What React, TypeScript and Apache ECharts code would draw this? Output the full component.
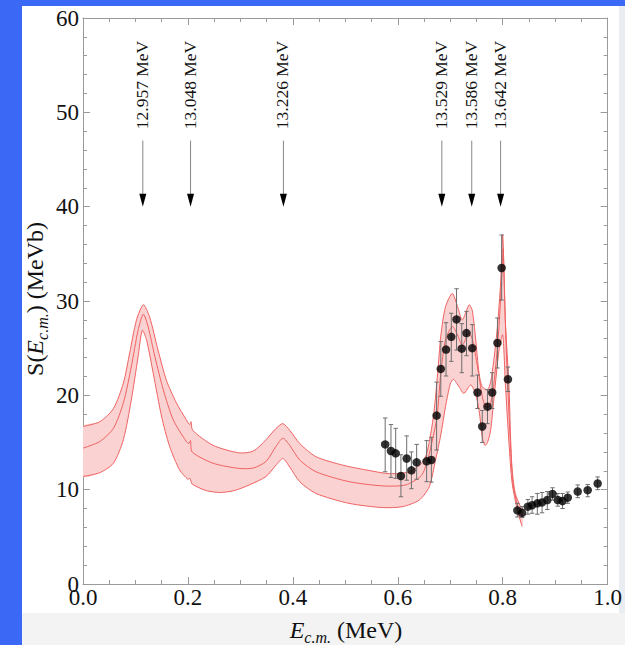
import React, { useEffect, useRef } from "react";
import * as echarts from "echarts";

// ---- R-matrix band: upper, central and lower curves [E_cm (MeV), S (MeV b)]
const upperCurve: number[][] = [
  [0, 16.7], [0.032, 17.2], [0.058, 18.6], [0.077, 21.3], [0.089, 24.5], [0.102, 28.0],
  [0.115, 29.6], [0.127, 28.3], [0.143, 24.8], [0.159, 21.6], [0.178, 19.2], [0.197, 17.4],
  [0.203, 16.9], [0.206, 17.2], [0.209, 16.3], [0.248, 14.7], [0.298, 13.9], [0.325, 14.1],
  [0.349, 15.3], [0.368, 16.5], [0.381, 17.0], [0.394, 16.3], [0.413, 14.9], [0.444, 13.5],
  [0.495, 12.6], [0.539, 12.1], [0.584, 11.7], [0.622, 11.9], [0.647, 12.9], [0.656, 14.0],
  [0.663, 16.0], [0.669, 18.2], [0.676, 22.3], [0.682, 26.3], [0.691, 29.4], [0.704, 30.8],
  [0.714, 29.4], [0.723, 28.0], [0.736, 29.6], [0.742, 29.0], [0.748, 26.2], [0.755, 22.3],
  [0.761, 20.9], [0.771, 20.6], [0.777, 21.4], [0.783, 23.7], [0.790, 27.3], [0.796, 31.9],
  [0.800, 37.0], [0.805, 28.0], [0.812, 20.9], [0.815, 15.6], [0.818, 12.1], [0.824, 9.6],
  [0.834, 8.2], [0.840, 7.85],
];
const middleCurve: number[][] = [
  [0, 14.4], [0.032, 15.1], [0.058, 16.5], [0.077, 19.2], [0.092, 23.0], [0.105, 26.9],
  [0.115, 28.6], [0.124, 27.3], [0.137, 24.1], [0.153, 20.6], [0.172, 17.4], [0.197, 15.1],
  [0.202, 14.9], [0.205, 15.2], [0.208, 14.0], [0.248, 12.8], [0.298, 12.25], [0.325, 12.3],
  [0.349, 13.0], [0.368, 14.6], [0.381, 15.45], [0.394, 14.7], [0.413, 13.15], [0.444, 11.9],
  [0.507, 10.85], [0.571, 10.4], [0.615, 10.5], [0.645, 11.5], [0.657, 13.15], [0.667, 15.5],
  [0.675, 17.8], [0.682, 22.3], [0.691, 25.9], [0.704, 27.3], [0.714, 26.4], [0.723, 25.3],
  [0.735, 26.6], [0.742, 26.0], [0.752, 23.0], [0.761, 19.9], [0.767, 18.8], [0.774, 18.8],
  [0.780, 19.9], [0.786, 22.7], [0.793, 27.3], [0.799, 33.5], [0.801, 35.5], [0.806, 26.0],
  [0.812, 18.0], [0.816, 13.5], [0.820, 10.5], [0.828, 8.4], [0.838, 7.0],
];
const lowerCurve: number[][] = [
  [0, 11.4], [0.032, 11.8], [0.058, 12.8], [0.077, 15.3], [0.092, 19.5], [0.105, 24.1],
  [0.113, 26.9], [0.121, 25.9], [0.134, 22.3], [0.150, 17.7], [0.165, 14.6], [0.184, 12.1],
  [0.200, 11.1], [0.204, 11.2], [0.208, 10.6], [0.235, 9.9], [0.262, 9.7], [0.288, 9.9],
  [0.317, 10.5], [0.349, 11.4], [0.368, 12.6], [0.381, 13.3], [0.394, 12.4], [0.413, 10.85],
  [0.444, 9.6], [0.507, 8.55], [0.571, 8.1], [0.609, 8.2], [0.641, 8.9], [0.660, 10.3],
  [0.672, 13.15], [0.682, 15.8], [0.691, 18.8], [0.700, 21.2], [0.706, 21.7], [0.717, 20.9],
  [0.726, 20.2], [0.739, 21.1], [0.748, 20.2], [0.755, 18.4], [0.761, 15.6], [0.766, 14.7],
  [0.771, 15.0], [0.777, 16.3], [0.783, 19.5], [0.793, 24.8], [0.800, 26.4], [0.805, 21.3],
  [0.812, 14.9], [0.818, 10.7], [0.828, 7.85], [0.837, 6.1],
];

// ---- measured data with error bars
const dataE = [
  0.576, 0.587, 0.596, 0.606, 0.617, 0.626, 0.636, 0.655, 0.664, 0.674,
  0.682, 0.692, 0.702, 0.712, 0.722, 0.731, 0.742, 0.752, 0.761, 0.771,
  0.780, 0.790, 0.798, 0.810, 0.828, 0.837, 0.848, 0.856, 0.866, 0.875,
  0.885, 0.895, 0.905, 0.914, 0.924, 0.943, 0.962, 0.981,
];
const dataS = [
  14.8, 14.1, 13.85, 11.45, 13.3, 12.05, 12.9, 13.0, 13.15, 17.85,
  22.8, 24.85, 26.2, 28.05, 24.95, 26.6, 25.0, 20.3, 16.7, 18.8,
  20.3, 25.55, 33.5, 21.7, 7.8, 7.55, 8.2, 8.35, 8.55, 8.65,
  8.9, 9.55, 8.9, 8.8, 9.15, 9.8, 9.95, 10.65,
];
const errLow = [
  11.9, 11.3, 11.2, 9.25, 11.0, 10.1, 11.1, 10.85, 10.8, 14.2,
  19.9, 22.05, 23.6, 24.8, 22.4, 24.2, 22.05, 18.6, 15.0, 17.0,
  18.6, 22.9, 30.1, 20.4, 7.1, 7.05, 7.4, 7.5, 7.4, 7.55,
  7.9, 8.9, 8.25, 8.0, 8.55, 9.15, 9.25, 10.0,
];
const errHigh = [
  17.6, 16.9, 16.5, 13.7, 15.7, 14.0, 14.8, 15.2, 15.55, 21.4,
  25.7, 27.7, 28.7, 31.3, 27.6, 28.9, 27.5, 22.15, 18.4, 20.6,
  22.4, 28.2, 37.0, 23.0, 8.55, 8.2, 8.95, 9.25, 9.6, 9.7,
  9.8, 10.2, 9.6, 9.6, 9.75, 10.5, 10.55, 11.35,
];

// ---- resonance markers
const levelE = [0.114, 0.205, 0.382, 0.684, 0.741, 0.796];
const levelLabels = ["12.957 MeV", "13.048 MeV", "13.226 MeV", "13.529 MeV", "13.586 MeV", "13.642 MeV"];
const arrowFrom = 47;
const arrowTo = 40;
const labelCenter = 52.9;

const xTickValues = [0, 0.2, 0.4, 0.6, 0.8, 1.0];
const yTickValues = [0, 10, 20, 30, 40, 50, 60];

const SERIF = "'Liberation Serif', 'DejaVu Serif', serif";
const BLUE = "#3C68F6";
const LINE_RED = "#F06262";
const FILL_PINK = "#FAD2D2";
const AXIS_GRAY = "#9a9a9a";

export default function App() {
  const ref = useRef<HTMLDivElement>(null);

  useEffect(() => {
    const chart = echarts.init(ref.current as HTMLDivElement, null, { renderer: "svg" });

    const commonAxis = {
      type: "value" as const,
      axisLine: { show: true, onZero: false, lineStyle: { color: AXIS_GRAY, width: 1 } },
      axisTick: { show: true, inside: true, length: 7, lineStyle: { color: AXIS_GRAY } },
      splitLine: { show: false },
    };

    const titleRich = {
      e: { fontFamily: SERIF, fontSize: 24, fontStyle: "italic", fill: "#111", lineHeight: 30 },
      s: { fontFamily: SERIF, fontSize: 16, fontStyle: "italic", fill: "#111", verticalAlign: "bottom", lineHeight: 30 },
    };

    const option: any = {
      animation: false,
      grid: { left: 83, right: 16, top: 18, bottom: 61, containLabel: false },
      xAxis: [
        {
          ...commonAxis,
          position: "bottom",
          min: 0,
          max: 1,
          interval: 0.2,
          minorTick: { show: true, splitNumber: 4, length: 4, lineStyle: { color: AXIS_GRAY } },
          axisLabel: {
            formatter: (v: number) => (xTickValues.includes(+v.toFixed(1)) ? v.toFixed(1) : ""),
            fontFamily: SERIF,
            fontSize: 23,
            color: "#111",
            margin: 2,
          },
        },
        {
          ...commonAxis,
          position: "top",
          min: 0,
          max: 1,
          interval: 0.2,
          minorTick: { show: true, splitNumber: 4, length: 4, lineStyle: { color: AXIS_GRAY } },
          axisLabel: { show: false },
        },
      ],
      yAxis: [
        {
          ...commonAxis,
          position: "left",
          min: 0,
          max: 60,
          interval: 10,
          minorTick: { show: true, splitNumber: 5, length: 4, lineStyle: { color: AXIS_GRAY } },
          axisLabel: {
            formatter: (v: number) => (yTickValues.includes(v) ? String(v) : ""),
            fontFamily: SERIF,
            fontSize: 23,
            color: "#111",
            margin: 4,
          },
        },
        {
          ...commonAxis,
          position: "right",
          min: 0,
          max: 60,
          interval: 10,
          minorTick: { show: true, splitNumber: 5, length: 4, lineStyle: { color: AXIS_GRAY } },
          axisLabel: { show: false },
        },
      ],
      graphic: [
        {
          type: "text",
          x: 35,
          y: 299,
          rotation: Math.PI / 2,
          style: {
            text: "S({e|E}{s|c.m.}) (MeVb)",
            fontFamily: SERIF,
            fontSize: 24,
            fill: "#111",
            align: "center",
            verticalAlign: "middle",
            lineHeight: 30,
            rich: titleRich,
          },
        },
        {
          type: "text",
          x: 346,
          y: 630,
          style: {
            text: "{e|E}{s|c.m.} (MeV)",
            fontFamily: SERIF,
            fontSize: 24,
            fill: "#111",
            align: "center",
            verticalAlign: "middle",
            lineHeight: 28,
            rich: titleRich,
          },
        },
      ],
      series: [
        {
          type: "custom",
          name: "band",
          silent: true,
          clip: true,
          z: 1,
          data: [[0, 0]],
          renderItem: (_params: any, api: any) => {
            const up = upperCurve.map((p) => api.coord(p));
            const mid = middleCurve.map((p) => api.coord(p));
            const lo = lowerCurve.map((p) => api.coord(p));
            const poly = up.concat(lo.slice().reverse());
            return {
              type: "group",
              children: [
                { type: "polygon", shape: { points: poly, smooth: 0.25 }, style: { fill: FILL_PINK, stroke: null } },
                { type: "polyline", shape: { points: up, smooth: 0.25 }, style: { stroke: LINE_RED, lineWidth: 1, fill: null } },
                { type: "polyline", shape: { points: mid, smooth: 0.25 }, style: { stroke: LINE_RED, lineWidth: 1, fill: null } },
                { type: "polyline", shape: { points: lo, smooth: 0.25 }, style: { stroke: LINE_RED, lineWidth: 1, fill: null } },
              ],
            };
          },
        },
        {
          type: "custom",
          name: "errors",
          silent: true,
          z: 3,
          encode: { x: 0, y: [1, 2] },
          data: dataE.map((e, i) => [e, errLow[i], errHigh[i]]),
          renderItem: (_params: any, api: any) => {
            const x = api.value(0);
            const lo = api.coord([x, api.value(1)]);
            const hi = api.coord([x, api.value(2)]);
            const cap = 2.2;
            const st = { stroke: "#6e6e6e", lineWidth: 1 };
            return {
              type: "group",
              children: [
                { type: "line", shape: { x1: lo[0], y1: lo[1], x2: hi[0], y2: hi[1] }, style: st },
                { type: "line", shape: { x1: lo[0] - cap, y1: lo[1], x2: lo[0] + cap, y2: lo[1] }, style: st },
                { type: "line", shape: { x1: hi[0] - cap, y1: hi[1], x2: hi[0] + cap, y2: hi[1] }, style: st },
              ],
            };
          },
        },
        {
          type: "scatter",
          name: "data",
          z: 4,
          symbol: "circle",
          symbolSize: 8.5,
          itemStyle: { color: "#000" },
          data: dataE.map((e, i) => [e, dataS[i]]),
        },
        {
          type: "custom",
          name: "levels",
          silent: true,
          z: 5,
          data: levelE.map((e, i) => [e, i]),
          renderItem: (_params: any, api: any) => {
            const e = api.value(0);
            const idx = api.value(1);
            const start = api.coord([e, arrowFrom]);
            const tip = api.coord([e, arrowTo]);
            const mid = api.coord([e, labelCenter]);
            const headLen = 13;
            const headHalf = 3.5;
            return {
              type: "group",
              children: [
                {
                  type: "line",
                  shape: { x1: start[0], y1: start[1], x2: tip[0], y2: tip[1] - headLen + 1 },
                  style: { stroke: "#888", lineWidth: 1 },
                },
                {
                  type: "polygon",
                  shape: {
                    points: [
                      [tip[0] - headHalf, tip[1] - headLen],
                      [tip[0] + headHalf, tip[1] - headLen],
                      [tip[0], tip[1]],
                    ],
                  },
                  style: { fill: "#000" },
                },
                {
                  type: "text",
                  x: mid[0] - 1,
                  y: mid[1],
                  rotation: Math.PI / 2,
                  style: {
                    text: levelLabels[idx],
                    fontFamily: SERIF,
                    fontSize: 17.5,
                    fill: "#111",
                    align: "center",
                    verticalAlign: "middle",
                  },
                },
              ],
            };
          },
        },
      ],
    };

    chart.setOption(option);
    return () => chart.dispose();
  }, []);

  return (
    <div
      style={{
        position: "fixed",
        left: 0,
        top: 0,
        width: 625,
        height: 645,
        background: "#ffffff",
        overflow: "hidden",
      }}
    >
      <div style={{ position: "absolute", left: 0, top: 0, width: 22, height: 645, background: BLUE }} />
      <div style={{ position: "absolute", left: 0, top: 0, width: 625, height: 6, background: BLUE }} />
      <div style={{ position: "absolute", left: 22, top: 613, width: 603, height: 32, background: "#f3f3f3" }} />
      <div style={{ position: "absolute", left: 619, top: 6, width: 6, height: 607, background: "#e9edf2" }} />
      <div ref={ref} style={{ position: "absolute", left: 0, top: 0, width: 625, height: 645 }} />
    </div>
  );
}
